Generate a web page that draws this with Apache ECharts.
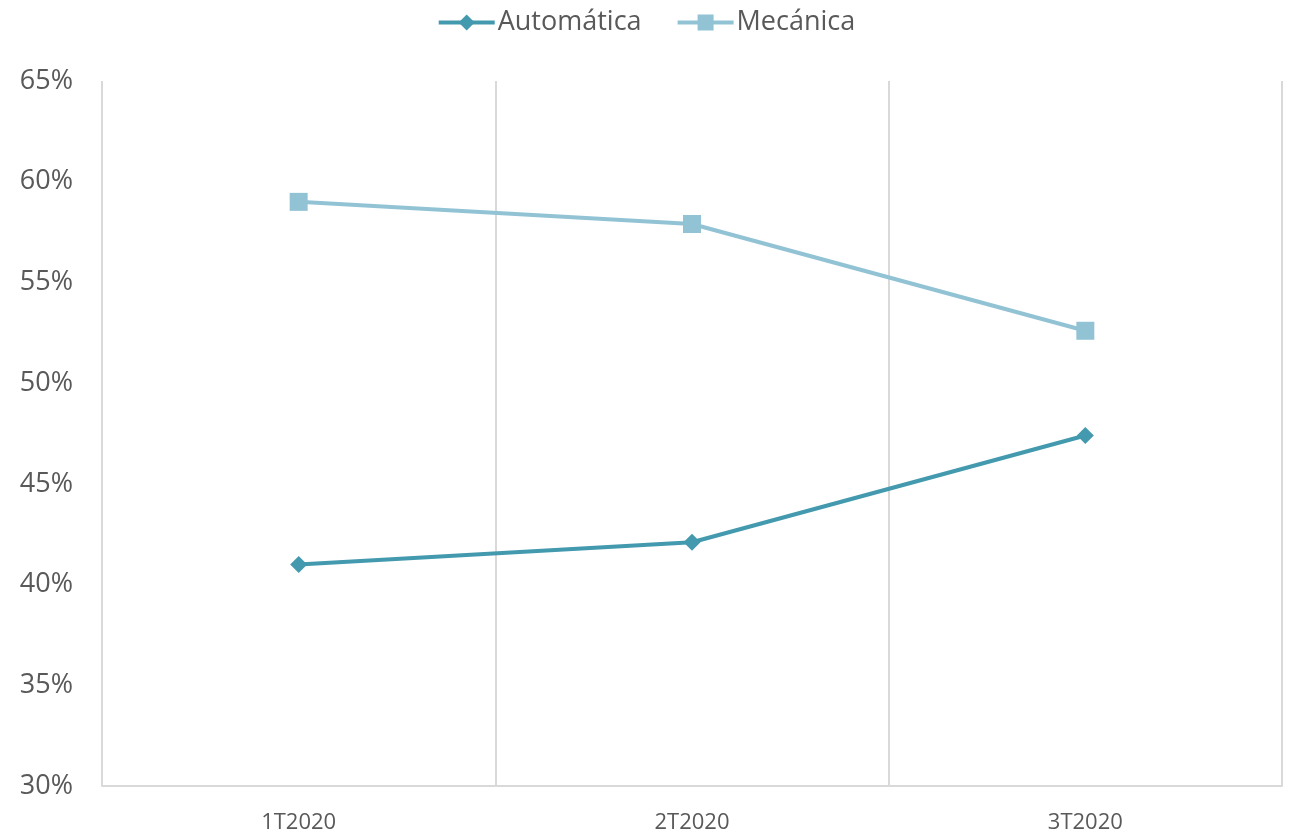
<!DOCTYPE html>
<html><head><meta charset="utf-8">
<script src="https://cdn.jsdelivr.net/npm/echarts@6/dist/echarts.min.js"></script>
<style>html,body{margin:0;padding:0;background:#fff}#c{width:1292px;height:837px}</style>
</head><body><div id="c"></div>
<script>
const categories = ['1T2020', '2T2020', '3T2020'];
const automatica = [41.0, 42.1, 47.4];
const mecanica = [59.0, 57.9, 52.6];
const seriesNames = ['Automática', 'Mecánica'];

const chart = echarts.init(document.getElementById('c'));
const font = '"Open Sans", sans-serif';
chart.setOption({
  animation: false,
  textStyle: { fontFamily: font },
  legend: {
    top: 4, left: 'center',
    itemWidth: 56, itemHeight: 20, itemGap: 34,
    lineStyle: { width: 4 },
    textStyle: { fontFamily: font, fontSize: 27, color: '#595959', padding: [0, 0, 0, -2] },
    data: seriesNames
  },
  grid: { left: 102, right: 10, top: 81, bottom: 51, containLabel: false },
  xAxis: {
    type: 'category', data: categories, boundaryGap: true,
    axisLine: { show: true, lineStyle: { color: '#d9d9d9', width: 2 } },
    axisTick: { show: false },
    axisLabel: { fontFamily: font, fontSize: 22, color: '#595959', margin: 26 },
    splitLine: { show: true, lineStyle: { color: '#d9d9d9', width: 2 } }
  },
  yAxis: {
    type: 'value', min: 30, max: 65, interval: 5,
    axisLine: { show: false }, axisTick: { show: false },
    splitLine: { show: false },
    axisLabel: { fontFamily: font, fontSize: 27, color: '#595959', margin: 29, formatter: v => v + '%' }
  },
  series: [
    { name: seriesNames[0], type: 'line', data: automatica, symbol: 'diamond', symbolSize: 17,
      lineStyle: { color: '#4399ae', width: 4 }, itemStyle: { color: '#4399ae' } },
    { name: seriesNames[1], type: 'line', data: mecanica, symbol: 'rect', symbolSize: 18,
      lineStyle: { color: '#92c3d5', width: 4 }, itemStyle: { color: '#92c3d5' } }
  ]
});
</script></body></html>
